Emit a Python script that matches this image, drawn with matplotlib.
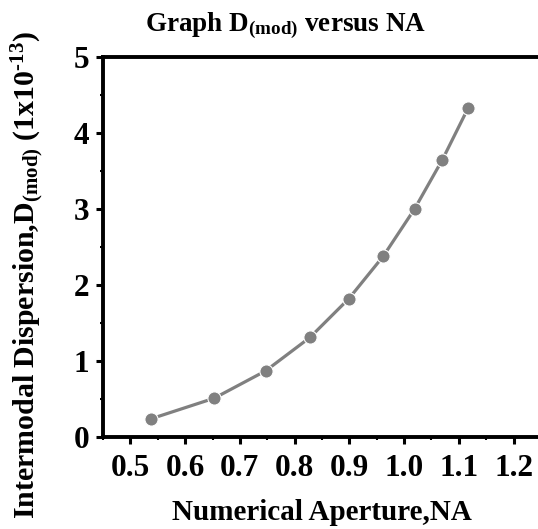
import matplotlib
matplotlib.use("Agg")
import matplotlib.pyplot as plt
from matplotlib.ticker import MultipleLocator, FormatStrFormatter

na = [0.538, 0.653, 0.747, 0.828, 0.899, 0.962, 1.019, 1.070, 1.117]
d_mod = [0.24, 0.51, 0.87, 1.31, 1.82, 2.38, 3.00, 3.65, 4.33]
x_ticks = [0.5, 0.6, 0.7, 0.8, 0.9, 1.0, 1.1, 1.2]
y_ticks = [0, 1, 2, 3, 4, 5]

plt.rcParams['font.family'] = ['Liberation Serif', 'DejaVu Serif']
plt.rcParams['font.weight'] = 'bold'
plt.rcParams['mathtext.fontset'] = 'custom'
plt.rcParams['mathtext.rm'] = 'Liberation Serif:bold'
plt.rcParams['mathtext.it'] = 'Liberation Serif:bold'
plt.rcParams['mathtext.bf'] = 'Liberation Serif:bold'

W, H = 538, 529
fig = plt.figure(figsize=(W / 100, H / 100), dpi=100)
left, right, top, bottom = 103, 541, 57, 437
ax = fig.add_axes([left / W, 1 - bottom / H, (right - left) / W, (bottom - top) / H])

ax.plot(na, d_mod, color='#808080', lw=2.3, marker='o', ms=9.5,
        mfc='#808080', mec='white', mew=0.8, zorder=3)

ax.set_xlim(0.45, 1.25)
ax.set_ylim(0, 5)
ax.set_xticks(x_ticks)
ax.set_yticks(y_ticks)
ax.xaxis.set_major_formatter(FormatStrFormatter('%.1f'))
ax.xaxis.set_minor_locator(MultipleLocator(0.05))
ax.yaxis.set_minor_locator(MultipleLocator(0.5))

for s in ['left', 'bottom', 'top']:
    ax.spines[s].set_linewidth(2.8)
ax.spines['right'].set_visible(False)

ax.tick_params(which='major', direction='out', length=5, width=2.2,
               labelsize=22.5)
ax.tick_params(which='minor', direction='out', length=2, width=1.5)
ax.tick_params(axis='x', which='major', pad=7)
ax.tick_params(axis='y', which='major', pad=5)
ax.tick_params(top=False, which='both')

ax.set_xlabel('Numerical Aperture,NA', fontsize=21, fontweight='bold', labelpad=12)
ax.set_ylabel(r'Intermodal Dispersion,D$_{\rm (mod)}$ (1x10$^{\text{-13}}$)',
              fontsize=21.5, fontweight='bold')
ax.yaxis.set_label_coords(-0.13, 0.426)

fig.text(286 / W, 1 - 26 / H, r'Graph D$_{\rm (mod)}$ versus NA', fontsize=19.5,
         fontweight='bold', ha='center', va='center')

fig.savefig('out.png', dpi=100)
